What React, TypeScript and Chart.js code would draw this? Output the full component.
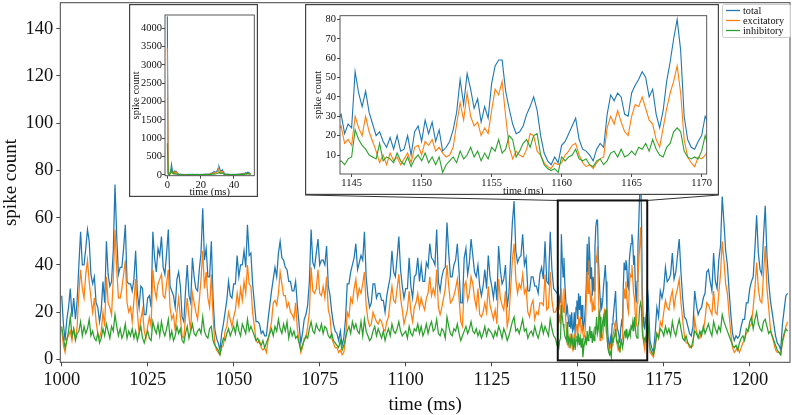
import React, { useEffect, useRef } from "react";
import { Chart, registerables } from "chart.js";

Chart.register(...registerables);

const FONT = "'Liberation Serif', 'Times New Roman', serif";
const C_TOTAL = "#1f77b4";
const C_EXC = "#ff7f0e";
const C_INH = "#2ca02c";

// ---------- sampling of the main recording (ms) ----------
const A_START = 1000; // 1000 .. 1143.5
const A_STEP = 0.5;
const B_START = 1144; // 1144 .. 1170.5 (zoomed window, finer reading)
const B_STEP = 0.25;
const C_START = 1171; // 1171 .. 1211
const C_STEP = 0.5;

// ---------- main series, segment A ----------
const totalA = [
  27, 15, 8, 17, 22, 30, 18, 26, 17, 25,
  40, 54, 40, 40, 47, 55, 50, 36, 32, 35,
  24, 22, 16, 21, 33, 24, 50, 36, 31, 33,
  46, 74, 52, 36, 39, 39, 47, 57, 33, 32,
  32, 29, 34, 46, 28, 22, 31, 30, 19, 19,
  26, 27, 22, 54, 43, 37, 47, 44, 52, 39,
  36, 45, 55, 31, 29, 27, 22, 34, 37, 31,
  18, 16, 29, 40, 27, 24, 43, 35, 30, 29,
  38, 45, 64, 42, 47, 35, 35, 50, 26, 13,
  9, 7, 4, 11, 15, 20, 25, 33, 27, 26,
  32, 32, 44, 35, 40, 40, 46, 39, 57, 44,
  45, 32, 24, 16, 16, 15, 11, 12, 10, 10,
  17, 23, 29, 34, 39, 35, 45, 50, 43, 42,
  39, 38, 33, 33, 29, 29, 33, 23, 15, 7,
  11, 17, 19, 23, 33, 55, 41, 39, 45, 51,
  40, 42, 42, 40, 48, 31, 27, 20, 15, 12,
  11, 8, 12, 6, 9, 17, 32, 32, 37, 40,
  43, 49, 38, 41, 44, 42, 54, 35, 27, 22,
  24, 32, 32, 26, 28, 28, 25, 25, 20, 27,
  31, 35, 46, 37, 35, 43, 52, 38, 31, 26,
  30, 30, 43, 31, 26, 35, 36, 43, 33, 40,
  33, 33, 41, 39, 49, 43, 42, 40, 55, 33,
  29, 35, 38, 39, 58, 45, 35, 35, 40, 42,
  49, 37, 24, 24, 43, 47, 36, 41, 51, 44,
  37, 35, 40, 31, 27, 31, 38, 30, 44, 35,
  31, 26, 33, 25, 48, 38, 32, 34, 40, 22,
  28, 43, 58, 67, 46, 41, 43, 44, 53, 40,
  43, 29, 29, 35, 35, 31, 31, 28, 36, 39,
  34, 50, 33, 32, 54, 38, 30, 29,
];
const excA = [
  13, 6, 3, 9, 10, 12, 8, 13, 9, 14,
  28, 38, 30, 26, 36, 42, 33, 26, 20, 26,
  16, 11, 9, 12, 20, 14, 35, 24, 22, 19,
  34, 55, 38, 26, 26, 30, 36, 42, 24, 20,
  22, 16, 25, 34, 20, 11, 17, 21, 12, 9,
  14, 18, 14, 38, 30, 26, 32, 34, 36, 27,
  26, 32, 38, 22, 17, 19, 12, 20, 26, 18,
  10, 9, 18, 26, 18, 12, 28, 24, 20, 17,
  25, 34, 46, 30, 37, 26, 22, 36, 18, 7,
  4, 3, 2, 5, 6, 12, 14, 20, 17, 14,
  18, 21, 28, 23, 30, 25, 33, 28, 40, 32,
  31, 20, 14, 8, 7, 8, 5, 4, 5, 3,
  8, 12, 16, 24, 25, 23, 28, 37, 32, 27,
  27, 22, 24, 20, 19, 17, 24, 13, 8, 3,
  5, 9, 9, 14, 20, 39, 29, 28, 30, 38,
  28, 27, 31, 26, 35, 21, 18, 9, 7, 5,
  5, 3, 4, 2, 3, 8, 20, 18, 26, 24,
  30, 34, 26, 30, 28, 32, 37, 23, 17, 14,
  15, 20, 18, 16, 15, 17, 16, 13, 12, 16,
  18, 25, 31, 25, 24, 30, 36, 26, 21, 15,
  18, 21, 29, 20, 16, 22, 24, 28, 22, 26,
  23, 21, 26, 28, 35, 27, 30, 27, 38, 22,
  19, 22, 26, 30, 40, 31, 24, 25, 27, 30,
  34, 26, 16, 14, 31, 33, 25, 28, 35, 32,
  26, 22, 30, 19, 18, 20, 24, 20, 31, 23,
  20, 17, 21, 15, 34, 26, 23, 21, 29, 14,
  18, 30, 42, 49, 34, 28, 32, 30, 36, 28,
  30, 20, 18, 23, 25, 17, 20, 19, 24, 24,
  23, 36, 21, 22, 37, 25, 20, 20,
];
const inhA = [
  14, 9, 5, 8, 12, 18, 10, 13, 8, 11,
  12, 16, 10, 14, 11, 13, 17, 10, 12, 9,
  8, 11, 7, 9, 13, 10, 15, 12, 9, 14,
  12, 19, 14, 10, 13, 9, 11, 15, 9, 12,
  10, 13, 9, 12, 8, 11, 14, 9, 7, 10,
  12, 9, 8, 16, 13, 11, 15, 10, 16, 12,
  10, 13, 17, 9, 12, 8, 10, 14, 11, 13,
  8, 7, 11, 14, 9, 12, 15, 11, 10, 12,
  13, 11, 18, 12, 10, 9, 13, 14, 8, 6,
  5, 4, 2, 6, 9, 8, 11, 13, 10, 12,
  14, 11, 16, 12, 10, 15, 13, 11, 17, 12,
  14, 12, 10, 8, 9, 7, 6, 8, 5, 7,
  9, 11, 13, 10, 14, 12, 17, 13, 11, 15,
  12, 16, 9, 13, 10, 12, 9, 10, 7, 4,
  6, 8, 10, 9, 13, 16, 12, 11, 15, 13,
  12, 15, 11, 14, 13, 10, 9, 11, 8, 7,
  6, 5, 8, 4, 6, 9, 12, 14, 11, 16,
  13, 15, 12, 11, 16, 10, 17, 12, 10, 8,
  9, 12, 14, 10, 13, 11, 9, 12, 8, 11,
  13, 10, 15, 12, 11, 13, 16, 12, 10, 11,
  12, 9, 14, 11, 10, 13, 12, 15, 11, 14,
  10, 12, 15, 11, 14, 16, 12, 13, 17, 11,
  10, 13, 12, 9, 18, 14, 11, 10, 13, 12,
  15, 11, 8, 10, 12, 14, 11, 13, 16, 12,
  11, 13, 10, 12, 9, 11, 14, 10, 13, 12,
  11, 9, 12, 10, 14, 12, 9, 13, 11, 8,
  10, 13, 16, 18, 12, 13, 11, 14, 17, 12,
  13, 9, 11, 12, 10, 14, 11, 9, 12, 15,
  11, 14, 12, 10, 17, 13, 10, 9,
];

// ---------- main series, segment B (zoomed window) ----------
const totalB = [
  28, 31, 21, 26, 24, 53, 42, 35, 43, 32,
  26, 20, 22, 17, 14, 19, 13, 20, 12, 13,
  20, 10, 22, 25, 17, 28, 21, 27, 17, 23,
  12, 14, 17, 23, 32, 49, 36, 52, 44, 34,
  39, 27, 35, 29, 47, 56, 59, 59, 43, 34,
  26, 21, 22, 25, 31, 35, 40, 33, 20, 11,
  7, 5, 9, 6, 15, 17, 21, 25, 29, 18,
  13, 12, 10, 7, 13, 16, 14, 31, 41, 38,
  42, 40, 31, 30, 42, 46, 49, 53, 50, 40,
  44, 31, 24, 33, 48, 58, 70, 80, 64, 30,
  18, 14, 13, 17, 20, 30, 26,
];
const excB = [
  22, 25, 16, 18, 15, 30, 24, 20, 30, 22,
  17, 12, 6, 10, 5, 11, 7, 9, 5, 8,
  11, 6, 14, 15, 10, 17, 15, 18, 12, 14,
  11, 9, 10, 14, 26, 37, 28, 42, 30, 25,
  27, 20, 24, 21, 33, 44, 41, 48, 30, 14,
  8, 12, 10, 9, 13, 21, 20, 12, 10, 6,
  4, 3, 6, 5, 6, 10, 12, 15, 16, 10,
  6, 4, 5, 3, 6, 8, 9, 24, 30, 26,
  33, 27, 22, 20, 30, 36, 35, 40, 34, 28,
  26, 18, 14, 24, 34, 42, 48, 56, 42, 18,
  9, 6, 4, 9, 8, 10, 12,
];
const inhB = [
  6, 7, 5, 8, 9, 23, 18, 15, 13, 10,
  9, 8, 16, 7, 9, 8, 6, 11, 7, 5,
  9, 4, 8, 10, 7, 11, 6, 9, 5, 9,
  1, 5, 7, 9, 6, 12, 8, 10, 14, 9,
  12, 7, 11, 8, 14, 12, 18, 11, 13, 20,
  18, 9, 12, 16, 18, 14, 20, 21, 10, 5,
  3, 2, 3, 1, 9, 7, 9, 10, 13, 8,
  7, 8, 5, 4, 7, 8, 5, 7, 11, 12,
  9, 13, 9, 10, 12, 10, 14, 13, 16, 12,
  18, 13, 10, 9, 14, 16, 22, 24, 22, 12,
  9, 8, 9, 8, 12, 20, 14,
];

// ---------- main series, segment C ----------
const totalC = [
  8, 5, 3, 11, 22, 18, 29, 26, 30, 39,
  33, 34, 36, 45, 34, 37, 44, 51, 37, 26,
  18, 17, 14, 11, 10, 14, 29, 23, 19, 21,
  22, 26, 28, 37, 38, 33, 29, 45, 33, 30,
  42, 48, 69, 58, 46, 40, 29, 19, 11, 8,
  10, 9, 10, 14, 17, 17, 24, 24, 30, 33,
  35, 47, 61, 45, 38, 36, 52, 65, 44, 33,
  25, 20, 15, 10, 7, 6, 4, 15, 21, 27,
  28,
];
const excC = [
  3, 2, 1, 5, 11, 9, 16, 14, 20, 25,
  22, 21, 26, 29, 22, 27, 30, 34, 24, 17,
  10, 7, 7, 5, 5, 6, 17, 12, 10, 9,
  12, 12, 17, 24, 23, 21, 19, 29, 20, 19,
  28, 36, 50, 42, 32, 28, 19, 11, 5, 3,
  4, 5, 3, 5, 7, 9, 11, 12, 14, 15,
  22, 30, 41, 30, 25, 24, 36, 48, 30, 22,
  13, 10, 7, 4, 3, 3, 2, 7, 10, 14,
  16,
];
const inhC = [
  5, 3, 2, 6, 11, 9, 13, 12, 10, 14,
  11, 13, 10, 16, 12, 10, 14, 17, 13, 9,
  8, 10, 7, 6, 5, 8, 12, 11, 9, 12,
  10, 14, 11, 13, 15, 12, 10, 16, 13, 11,
  14, 12, 19, 16, 14, 12, 10, 8, 6, 5,
  6, 4, 7, 9, 10, 8, 13, 12, 16, 18,
  13, 17, 20, 15, 13, 12, 16, 17, 14, 11,
  12, 10, 8, 6, 4, 3, 2, 8, 11, 13,
  12,
];

// ---------- first 50 ms (left inset) ----------
const EARLY_START = 0;
const EARLY_STEP = 0.5;
const earlyTotal = [
  4330, 60, 20, 35, 90, 280, 120, 60, 80, 110,
  60, 90, 40, 25, 15, 12, 18, 10, 14, 9,
  11, 8, 13, 9, 7, 12, 10, 8, 14, 9,
  12, 10, 8, 11, 9, 13, 10, 7, 12, 9,
  10, 14, 11, 9, 15, 12, 18, 14, 20, 16,
  25, 30, 40, 35, 60, 50, 90, 75, 70, 95,
  120, 180, 230, 160, 90, 110, 140, 80, 40, 30,
  20, 15, 18, 12, 14, 10, 13, 9, 11, 8,
  12, 10, 15, 11, 14, 18, 16, 22, 19, 25,
  30, 28, 40, 35, 55, 45, 70, 50, 60, 40,
  30,
];
const earlyExc = [
  3470, 40, 12, 20, 40, 100, 50, 30, 55, 80,
  45, 70, 28, 15, 9, 7, 11, 6, 8, 5,
  6, 5, 8, 5, 4, 7, 6, 5, 8, 5,
  7, 6, 4, 6, 5, 8, 6, 4, 7, 5,
  6, 8, 6, 5, 9, 7, 11, 8, 12, 10,
  16, 20, 28, 24, 40, 34, 65, 52, 50, 68,
  85, 130, 150, 110, 60, 70, 90, 50, 25, 18,
  12, 9, 11, 7, 8, 6, 8, 5, 6, 5,
  7, 6, 9, 6, 8, 11, 9, 13, 11, 15,
  18, 16, 25, 20, 30, 25, 35, 28, 32, 22,
  18,
];
const earlyInh = [
  860, 20, 8, 15, 50, 180, 70, 30, 25, 30,
  15, 20, 12, 10, 6, 5, 7, 4, 6, 4,
  5, 3, 5, 4, 3, 5, 4, 3, 6, 4,
  5, 4, 4, 5, 4, 5, 4, 3, 5, 4,
  4, 6, 5, 4, 6, 5, 7, 6, 8, 6,
  9, 10, 12, 11, 20, 16, 25, 23, 20, 27,
  35, 50, 80, 50, 30, 40, 50, 30, 15, 12,
  8, 6, 7, 5, 6, 4, 5, 4, 5, 3,
  5, 4, 6, 5, 6, 7, 7, 9, 8, 10,
  12, 12, 15, 15, 25, 20, 35, 22, 28, 18,
  12,
];

// ---------- ticks / labels ----------
const mainXTicks = [1000, 1025, 1050, 1075, 1100, 1125, 1150, 1175, 1200];
const mainYTicks = [0, 20, 40, 60, 80, 100, 120, 140];
const zoomXTicks = [1145, 1150, 1155, 1160, 1165, 1170];
const zoomYTicks = [10, 20, 30, 40, 50, 60, 70, 80];
const earlyXTicks = [0, 20, 40];
const earlyYTicks = [0, 500, 1000, 1500, 2000, 2500, 3000, 3500, 4000];
const seriesLabels = ["total", "excitatory", "inhibitory"];
const seriesColors = [C_TOTAL, C_EXC, C_INH];

// zoom window shown on the main axes (data units)
const ZOOM_X0 = 1144.2;
const ZOOM_X1 = 1170.2;
const ZOOM_Y0 = -0.4;
const ZOOM_Y1 = 67.3;

function seg(start: number, step: number, vals: number[]) {
  return vals.map((v, i) => ({ x: start + i * step, y: v }));
}
function joined(a: number[], b: number[], c: number[]) {
  return [...seg(A_START, A_STEP, a), ...seg(B_START, B_STEP, b), ...seg(C_START, C_STEP, c)];
}

function datasets(pts: any[][], width: number) {
  return pts.map((d, i) => ({
    label: seriesLabels[i],
    data: d,
    borderColor: seriesColors[i],
    backgroundColor: seriesColors[i],
    borderWidth: width,
    pointRadius: 0,
    fill: false,
    tension: 0,
    order: 2 - i,
  }));
}

function axis(o: any) {
  return {
    type: "linear",
    min: o.min,
    max: o.max,
    afterBuildTicks: (s: any) => {
      s.ticks = o.ticks.map((v: number) => ({ value: v }));
    },
    afterFit: (s: any) => {
      if (o.width != null) s.width = o.width;
      if (o.height != null) s.height = o.height;
      s.paddingTop = 0;
      s.paddingBottom = 0;
      s.paddingLeft = 0;
      s.paddingRight = 0;
    },
    grid: { display: true, drawOnChartArea: false, drawTicks: true, tickLength: o.tickLength, color: "#333", lineWidth: 0.9 },
    border: { display: false },
    ticks: {
      font: { family: FONT, size: o.fontSize },
      color: "#111",
      padding: o.pad,
      maxRotation: 0,
      autoSkip: false,
      callback: (v: any) => String(v),
    },
    title: {
      display: true,
      text: o.title,
      color: "#111",
      font: { family: FONT, size: o.titleSize },
      padding: o.titlePad,
    },
  };
}

const spinePlugin = (color: string, width: number) => ({
  id: "spines",
  afterDraw(chart: any) {
    const { ctx, chartArea: a } = chart;
    ctx.save();
    ctx.strokeStyle = color;
    ctx.lineWidth = width;
    ctx.strokeRect(a.left, a.top, a.right - a.left, a.bottom - a.top);
    ctx.restore();
  },
});

const insetFramePlugin = {
  id: "insetFrame",
  beforeDraw(chart: any) {
    const { ctx } = chart;
    ctx.save();
    ctx.fillStyle = "#fff";
    ctx.fillRect(0, 0, chart.width, chart.height);
    ctx.restore();
  },
  afterDraw(chart: any) {
    const { ctx } = chart;
    ctx.save();
    ctx.strokeStyle = "#444";
    ctx.lineWidth = 1.2;
    ctx.strokeRect(0.6, 0.6, chart.width - 1.2, chart.height - 1.2);
    ctx.restore();
  },
};

// inset frames placement (page pixels)
const IN2 = { left: 305, top: 4, width: 414, height: 191 };
const IN1 = { left: 129, top: 4, width: 129, height: 193 };

const overlayPlugin = {
  id: "overlay",
  afterDraw(chart: any) {
    const { ctx, scales } = chart;
    const xs = scales.x;
    const ys = scales.y;
    const x0 = xs.getPixelForValue(ZOOM_X0);
    const x1 = xs.getPixelForValue(ZOOM_X1);
    const y0 = ys.getPixelForValue(ZOOM_Y0);
    const y1 = ys.getPixelForValue(ZOOM_Y1);
    ctx.save();
    // connectors
    ctx.strokeStyle = "#333";
    ctx.lineWidth = 1;
    ctx.beginPath();
    ctx.moveTo(IN2.left, IN2.top + IN2.height);
    ctx.lineTo(x0, y1);
    ctx.moveTo(IN2.left + IN2.width, IN2.top + IN2.height);
    ctx.lineTo(x1, y1);
    ctx.stroke();
    // zoom rectangle
    ctx.strokeStyle = "#111";
    ctx.lineWidth = 2;
    ctx.strokeRect(x0, y1, x1 - x0, y0 - y1);
    // legend
    const lx = 722, ly = 4, lw = 68, lh = 33;
    ctx.fillStyle = "rgba(255,255,255,0.85)";
    ctx.strokeStyle = "#ccc";
    ctx.lineWidth = 1;
    ctx.beginPath();
    (ctx as any).roundRect(lx + 0.5, ly + 0.5, lw, lh, 2);
    ctx.fill();
    ctx.stroke();
    ctx.font = `10.3px ${FONT}`;
    ctx.textBaseline = "middle";
    ctx.textAlign = "left";
    seriesLabels.forEach((lab, i) => {
      const yy = ly + 6.5 + i * 10;
      ctx.strokeStyle = seriesColors[i];
      ctx.lineWidth = 1.3;
      ctx.beginPath();
      ctx.moveTo(lx + 4, yy);
      ctx.lineTo(lx + 18, yy);
      ctx.stroke();
      ctx.fillStyle = "#111";
      ctx.fillText(lab, lx + 21, yy + 0.5);
    });
    ctx.restore();
  },
};

const baseOptions = {
  animation: false,
  responsive: false,
  devicePixelRatio: 1,
  events: [],
  parsing: false,
  normalized: true,
  plugins: { legend: { display: false }, tooltip: { enabled: false } },
};

export default function App() {
  const mainRef = useRef<HTMLCanvasElement>(null);
  const in1Ref = useRef<HTMLCanvasElement>(null);
  const in2Ref = useRef<HTMLCanvasElement>(null);

  useEffect(() => {
    Chart.defaults.font.family = FONT;
    const totalPts = joined(totalA, totalB, totalC);
    const excPts = joined(excA, excB, excC);
    const inhPts = joined(inhA, inhB, inhC);

    const main = new Chart(mainRef.current as HTMLCanvasElement, {
      type: "line",
      data: { datasets: datasets([totalPts, excPts, inhPts], 1.25) as any },
      options: {
        ...baseOptions,
        layout: { padding: { top: 2.7, right: 2, left: 0, bottom: 0 } },
        scales: {
          x: axis({ min: 999.6, max: 1211.7, ticks: mainXTicks, height: 52.7, tickLength: 4, fontSize: 18.5, pad: 3, title: "time (ms)", titleSize: 19, titlePad: { top: 0, bottom: -1.5 } }),
          y: axis({ min: -1.2, max: 151, ticks: mainYTicks, width: 60.3, tickLength: 4, fontSize: 18.5, pad: 3, title: "spike count", titleSize: 19, titlePad: { top: 0, bottom: 0 } }),
        },
      } as any,
      plugins: [spinePlugin("#444", 1), overlayPlugin],
    });

    const in2 = new Chart(in2Ref.current as HTMLCanvasElement, {
      type: "line",
      data: { datasets: datasets([totalPts, excPts, inhPts], 1.1) as any },
      options: {
        ...baseOptions,
        layout: { padding: { top: 11.7, right: 12.3, left: 0, bottom: 0 } },
        scales: {
          x: axis({ min: 1144.17, max: 1170.36, ticks: zoomXTicks, height: 21, tickLength: 3, fontSize: 10.5, pad: 0, title: "time (ms)", titleSize: 10.5, titlePad: { top: 0, bottom: -2.1 } }),
          y: axis({ min: 0.2, max: 81.9, ticks: zoomYTicks, width: 35, tickLength: 3, fontSize: 10.5, pad: 1, title: "spike count", titleSize: 10.5, titlePad: { top: 7, bottom: 0 } }),
        },
      } as any,
      plugins: [insetFramePlugin, spinePlugin("#444", 0.9)],
    });

    const in1 = new Chart(in1Ref.current as HTMLCanvasElement, {
      type: "line",
      data: {
        datasets: datasets(
          [seg(EARLY_START, EARLY_STEP, earlyTotal), seg(EARLY_START, EARLY_STEP, earlyExc), seg(EARLY_START, EARLY_STEP, earlyInh)],
          1.1
        ) as any,
      },
      options: {
        ...baseOptions,
        layout: { padding: { top: 11, right: 3.7, left: 0, bottom: 0 } },
        scales: {
          x: axis({ min: -1.4, max: 52.2, ticks: earlyXTicks, height: 21.3, tickLength: 3, fontSize: 10.5, pad: 0, title: "time (ms)", titleSize: 10.5, titlePad: { top: 0, bottom: -1.8 } }),
          y: axis({ min: -25, max: 4362, ticks: earlyYTicks, width: 36, tickLength: 3, fontSize: 10.5, pad: 0, title: "spike count", titleSize: 10.5, titlePad: { top: 1.4, bottom: 0 } }),
        },
      } as any,
      plugins: [insetFramePlugin, spinePlugin("#444", 0.9)],
    });

    return () => {
      main.destroy();
      in1.destroy();
      in2.destroy();
    };
  }, []);

  return (
    <div style={{ position: "fixed", left: 0, top: 0, width: 792, height: 415, background: "#fff", overflow: "hidden" }}>
      <canvas ref={mainRef} width={792} height={415} style={{ position: "absolute", left: 0, top: 0, width: 792, height: 415 }} />
      <canvas ref={in1Ref} width={IN1.width} height={IN1.height} style={{ position: "absolute", left: IN1.left, top: IN1.top, width: IN1.width, height: IN1.height }} />
      <canvas ref={in2Ref} width={IN2.width} height={IN2.height} style={{ position: "absolute", left: IN2.left, top: IN2.top, width: IN2.width, height: IN2.height }} />
    </div>
  );
}
